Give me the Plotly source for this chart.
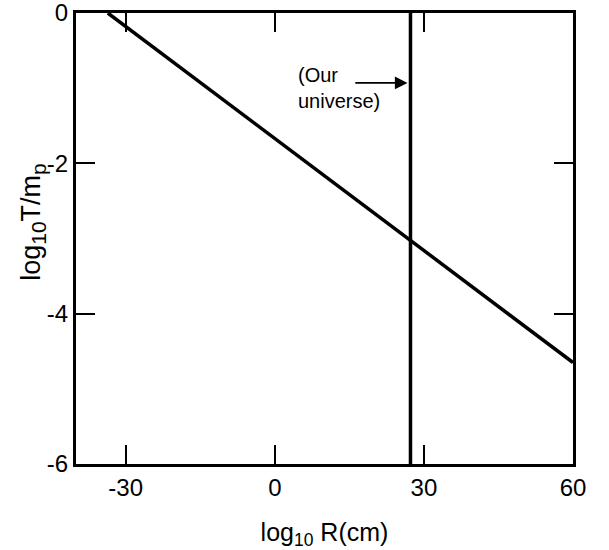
import plotly.graph_objects as go

# Temperature-radius relation (log10 R in cm, log10 T/m_p)
r_line = [-33.6, 60.0]
t_line = [0.0, -4.65]

# Present radius of our universe
r_universe = 27.3
t_span = [-6.0, 0.0]

# Arrow annotation pointing at the universe line
arrow_tail_r = 15.9
arrow_t = -0.93
label_r = 4.3
label_t = -1.0

x_range = [-40.0, 60.0]
y_range = [-6.0, 0.0]
x_ticks = [-30, 0, 30, 60]
y_ticks = [-6, -4, -2, 0]

font_family = "Liberation Sans, Arial, sans-serif"

fig = go.Figure()
fig.add_trace(go.Scatter(x=r_line, y=t_line, mode="lines",
                         line=dict(color="black", width=3.5), showlegend=False))
fig.add_trace(go.Scatter(x=[r_universe, r_universe], y=t_span, mode="lines",
                         line=dict(color="black", width=3.5), showlegend=False))

fig.add_annotation(x=r_universe, y=arrow_t, ax=arrow_tail_r, ay=arrow_t,
                   xref="x", yref="y", axref="x", ayref="y",
                   text="", showarrow=True, arrowhead=2, arrowsize=1.4,
                   arrowwidth=1.8, arrowcolor="black", standoff=3)
fig.add_annotation(x=label_r, y=label_t, xref="x", yref="y",
                   text="(Our<br>universe)", showarrow=False,
                   xanchor="left", yanchor="middle", align="left",
                   font=dict(size=20, color="black", family=font_family))

# Vertical axis title, placed beside the plot area
fig.add_annotation(x=0, y=0.537, xref="paper", yref="paper", xshift=-43,
                   text="log<sub><span style='font-size:21px'>10</span></sub>"
                        "T/m<sub><span style='font-size:21px'>p</span></sub>",
                   textangle=-90, showarrow=False, xanchor="center", yanchor="middle",
                   font=dict(size=27, color="black", family=font_family))

axis_common = dict(showline=True, linecolor="black", linewidth=3,
                   mirror="ticks", ticks="inside", ticklen=19, tickwidth=1.8,
                   tickcolor="black", showgrid=False, zeroline=False,
                   automargin=False, ticklabeloverflow="allow",
                   tickfont=dict(size=24, color="black", family=font_family))

fig.update_xaxes(range=x_range, tickvals=x_ticks, ticktext=[str(v) for v in x_ticks],
                 title=dict(text="log<sub>10</sub> R(cm)", standoff=25,
                            font=dict(size=25, color="black", family=font_family)),
                 **axis_common)
fig.update_yaxes(range=y_range, tickvals=y_ticks, ticktext=[str(v) for v in y_ticks],
                 **axis_common)

fig.update_layout(width=609, height=550,
                  margin=dict(l=76, r=36, t=13, b=86),
                  paper_bgcolor="white", plot_bgcolor="white",
                  font=dict(family=font_family, color="black"))

fig.write_html("out.html")
